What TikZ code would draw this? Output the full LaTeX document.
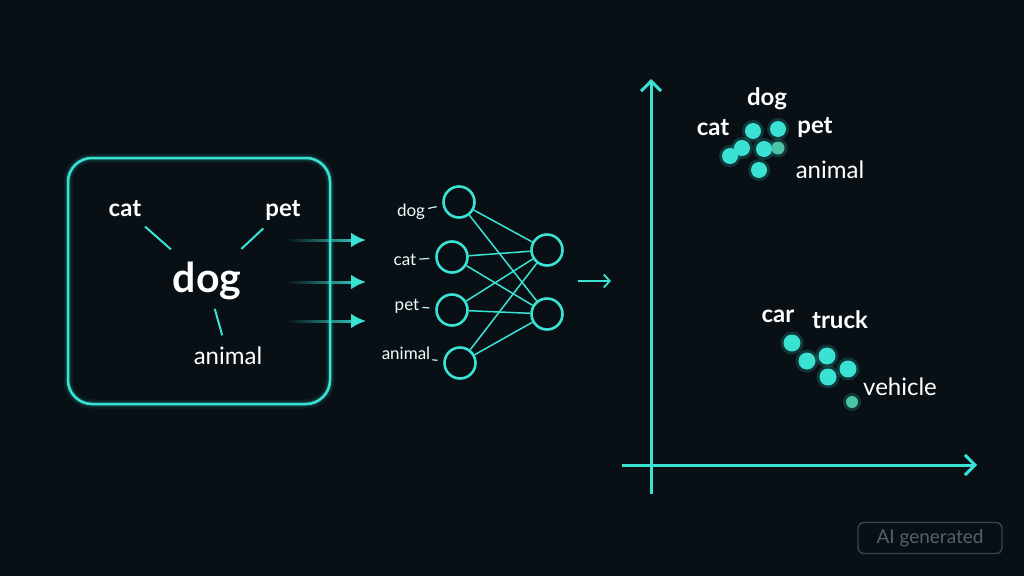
\documentclass[tikz,border=0pt]{standalone}
\usepackage{fontspec}
\setmainfont{Lato}
\usetikzlibrary{arrows.meta,fadings}

\definecolor{bg}{RGB}{8,16,22}
\definecolor{neon}{RGB}{58,226,212}
\definecolor{neondim}{RGB}{74,196,164}
\definecolor{badgegray}{RGB}{58,68,76}

\begin{document}
\begin{tikzpicture}[
  x=1pt,y=-1pt,
  >=Latex,
  font=\fontsize{22}{26}\selectfont,
  glow/.style={preaction={draw=neon,line width=9pt,opacity=.08},
               preaction={draw=neon,line width=5pt,opacity=.16}},
  panel/.style={draw=neon,line width=2.5pt,rounded corners=24pt,glow,
                minimum width=262pt,minimum height=246pt},
  word/.style={text=white,inner sep=0pt,font=\fontsize{24}{28}\selectfont\bfseries},
  plain/.style={word,font=\fontsize{24}{28}\selectfont},
  hub/.style={word,font=\fontsize{41}{46}\selectfont\bfseries},
  tag/.style={text=white!92!neon,inner sep=0pt,font=\fontsize{17}{20}\selectfont},
  neuron/.style={circle,draw=neon,line width=2.6pt,minimum size=31pt,inner sep=0pt},
  spoke/.style={draw=neon,line width=2pt},
  syn/.style={draw=neon,line width=1.5pt},
  tick/.style={draw=white!70!neon,line width=1.2pt,shorten <=3pt,shorten >=6pt},
  flow/.style={draw=neon,line width=3pt,path fading=west,shorten >=8pt},
  flowtip/.style={-{Latex[length=15pt,width=15pt]},draw=neon,line width=3pt,shorten <=66pt},
  axis/.style={-{Straight Barb[length=10pt,width=20pt]},draw=neon,line width=3pt},
  dot/.style={circle,fill=neon,minimum size=16pt,inner sep=0pt,
              preaction={draw=neon,line width=6pt,opacity=.18}},
  faint/.style={dot,fill=neondim,minimum size=13pt},
  badge/.style={draw=badgegray,line width=1.4pt,rounded corners=6pt,text=badgegray!85!white,
                font=\fontsize{19}{22}\selectfont,minimum width=144pt,minimum height=31pt},
]

\fill[bg] (0,0) rectangle (1024,576);
\useasboundingbox (0,0) rectangle (1024,576);

% ---------- word panel (left) ----------
\node[panel] (panel) at (199,281) {};
\node[hub]   (dog)    at (207,281) {dog};
\node[word]  (cat)    at (125,209) {cat};
\node[word]  (pet)    at (283,210) {pet};
\node[plain] (animal) at (228,356) {animal};

\draw[spoke,shorten <=14pt,shorten >=19pt] (cat) -- (dog);
\draw[spoke,shorten <=12pt,shorten >=19pt] (pet) -- (dog);
\draw[spoke,shorten <=12pt,shorten >=9pt] (animal) -- (dog);

\foreach \y [count=\k] in {240,282,321} {
  \coordinate (fs\k) at (288,\y);
  \coordinate (fe\k) at (366,\y);
  \draw[flow] (fs\k) -- (fe\k);
  \draw[flowtip] (fs\k) -- (fe\k);
}

% ---------- network (middle) ----------
\node[neuron] (i1) at (459,202) {};
\node[neuron] (i2) at (452,257) {};
\node[neuron] (i3) at (452,310) {};
\node[neuron] (i4) at (460,363) {};
\node[neuron] (o1) at (547,250) {};
\node[neuron] (o2) at (547,314) {};

\foreach \i in {1,...,4}
  \foreach \o in {1,2}
    \draw[syn] (i\i) -- (o\o);

\node[tag] (tdog)    at (411,212) {dog};
\node[tag] (tcat)    at (405,260) {cat};
\node[tag] (tpet)    at (407,306) {pet};
\node[tag] (tanimal) at (406,353) {animal};

\draw[tick] (tdog) -- (i1);
\draw[tick] (tcat) -- (i2);
\draw[tick] (tpet) -- (i3);
\draw[tick,shorten <=2pt] (tanimal.south east) -- (i4);

\coordinate (ns) at (578,281);
\coordinate (ne) at (611,281);
\draw[-{Straight Barb[length=6pt,width=13pt]},draw=neon,line width=1.8pt] (ns) -- (ne);

% ---------- embedding space (right) ----------
\coordinate (ybot) at (651,494);
\coordinate (ytop) at (651,79);
\coordinate (xlft) at (622,465);
\coordinate (xrgt) at (977,465);
\draw[axis] (ybot) -- (ytop);
\draw[axis] (xlft) -- (xrgt);

\foreach \p [count=\k] in {(753,131),(778,129),(730,156),(742,148),(764,149),(759,170)}
  \node[dot] (a\k) at \p {};
\node[faint] (a7) at (778,148) {};

\node[word]  (kdog)    at (767,99)  {dog};
\node[word]  (kcat)    at (713,128) {cat};
\node[word]  (kpet)    at (815,127) {pet};
\node[plain] (kanimal) at (830,170) {animal};

\foreach \p [count=\k] in {(792,343),(807,361),(827,356),(828,377),(848,369)}
  \node[dot,minimum size=17pt] (b\k) at \p {};
\node[faint,minimum size=12pt] (b6) at (852,402) {};

\node[word]  (kcar)     at (778,316) {car};
\node[word]  (ktruck)   at (840,320) {truck};
\node[plain] (kvehicle) at (900,387) {vehicle};

% ---------- badge ----------
\node[badge] (ai) at (930,538) {AI generated};

\end{tikzpicture}
\end{document}
